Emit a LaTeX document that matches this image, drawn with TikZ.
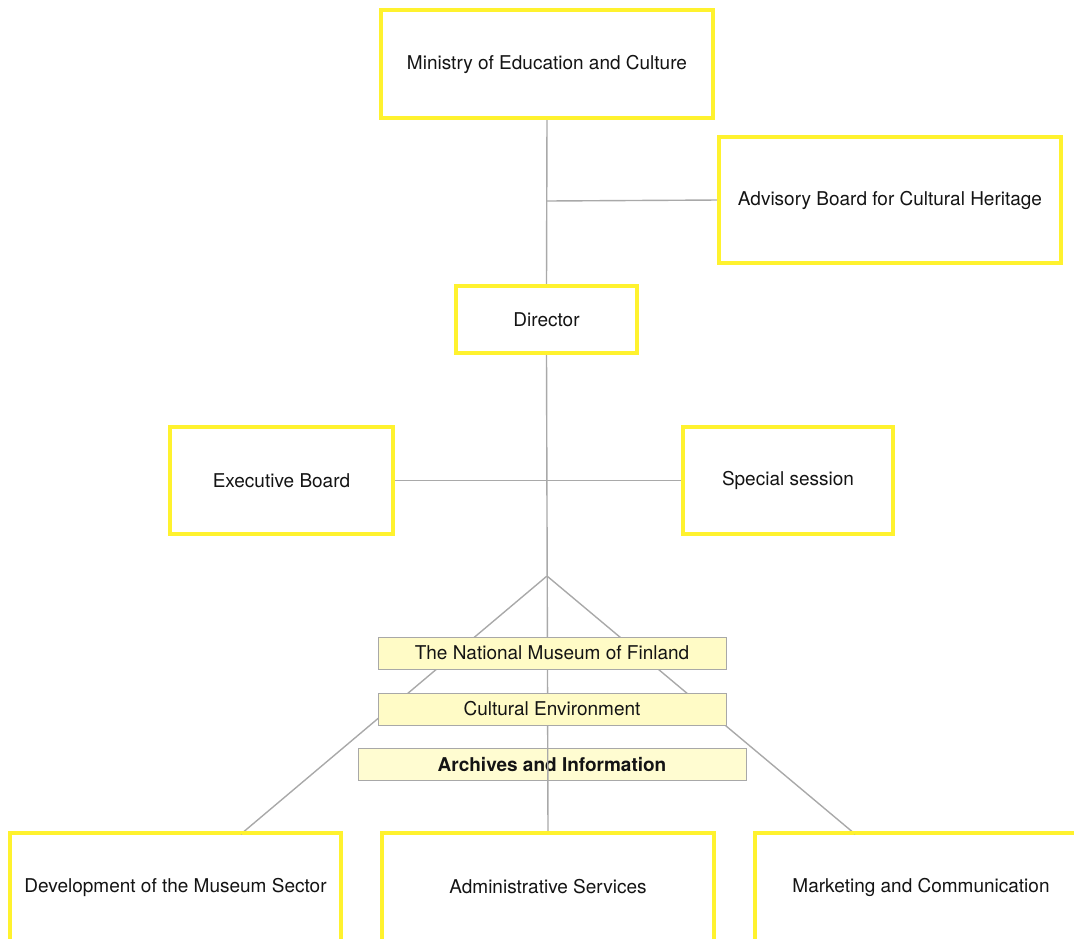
\documentclass[tikz,border=0pt]{standalone}
\usepackage{fontspec}
\setmainfont{TeX Gyre Heros}
\definecolor{boxyellow}{HTML}{FFF22E}
\definecolor{lblfill}{HTML}{FFFBC6}
\definecolor{lblborder}{HTML}{A8A8A8}
\definecolor{conn}{HTML}{A9A9A9}
\tikzset{
  orgbox/.style={draw=boxyellow, line width=2.6pt, fill=white, rectangle, inner sep=0pt, font=\fontsize{19}{22}\selectfont, text=black!92},
  lblbox/.style={draw=lblborder, line width=0.8pt, fill=lblfill, rectangle, inner sep=0pt, font=\fontsize{19}{22}\selectfont, text=black!92},
  link/.style={draw=conn, line width=1.4pt}
}
\begin{document}
\begin{tikzpicture}[x=1pt,y=-1pt]
\useasboundingbox (0,0) rectangle (1074,938);
\clip (0,0) rectangle (1074,938);
% nodes
\node[orgbox, minimum width=330pt, minimum height=106pt] (ministry) at (547,64) {Ministry of Education and Culture};
\node[orgbox, minimum width=340pt, minimum height=124pt] (advisory) at (890,200) {Advisory Board for Cultural Heritage};
\node[orgbox, minimum width=179pt, minimum height=65pt] (director) at (546.5,319.5) {Director};
\node[orgbox, minimum width=221pt, minimum height=105pt] (exec) at (281.5,480.5) {Executive Board};
\node[orgbox, minimum width=208pt, minimum height=105pt] (special) at (788,480.5) {Special session};
\node[orgbox, minimum width=329pt, minimum height=106pt] (dev) at (175.5,887) {Development of the Museum Sector};
\node[orgbox, minimum width=330pt, minimum height=106pt] (admin) at (548,887) {Administrative Services};
\node[orgbox, minimum width=330pt, minimum height=106pt] (market) at (921,887) {Marketing and Communication};
% coordinates
\coordinate (j1) at (547,201);
\coordinate (apex) at (547,576);
\coordinate (devtop) at (241,834);
\coordinate (mkttop) at (855,834);
% connectors
\draw[link] (ministry.south) -- (director.north);
\draw[link] (j1) -- (advisory.west);
\draw[link] (exec.east) -- (special.west);
\draw[link] (apex) -- (devtop);
\draw[link] (apex) -- (mkttop);
\node[lblbox, fill opacity=0.8, text opacity=1, minimum width=388pt, minimum height=32pt] (archives) at (552,764) {\bfseries Archives and Information};
\draw[link] (director.south) -- (admin.north);
\node[lblbox, minimum width=348pt, minimum height=32pt] (natmus) at (552,653) {The National Museum of Finland};
\node[lblbox, minimum width=348pt, minimum height=32pt] (culenv) at (552,709) {Cultural Environment};
% redraw box borders on top
\foreach \n in {ministry,advisory,director,exec,special,dev,admin,market}{
  \draw[draw=boxyellow, line width=2.6pt] (\n.north west) rectangle (\n.south east);
}
\end{tikzpicture}
\end{document}
